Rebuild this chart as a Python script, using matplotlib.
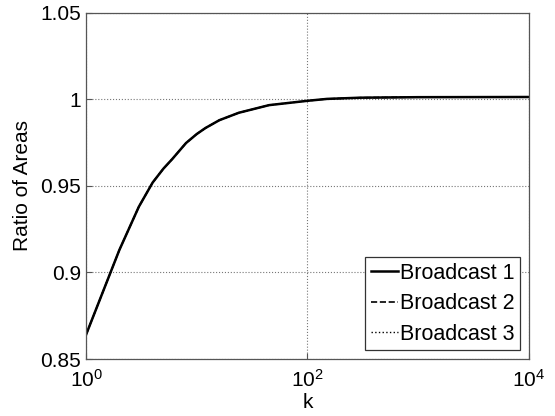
import matplotlib
matplotlib.use("Agg")
import matplotlib.pyplot as plt
from matplotlib.ticker import NullLocator

# values
k_vals = [1, 2, 3, 4, 5, 6, 8, 10, 12, 16, 24, 45, 100, 150, 300, 1000, 10000]
ratio_b1 = [0.864, 0.913, 0.938, 0.952, 0.960, 0.9655, 0.9748, 0.980, 0.9835,
            0.988, 0.9923, 0.9967, 0.9992, 1.0003, 1.001, 1.0013, 1.0014]
# the three broadcasts lie on top of each other in the picture
ratio_b2 = list(ratio_b1)
ratio_b3 = list(ratio_b1)
labels = ["Broadcast 1", "Broadcast 2", "Broadcast 3"]
y_ticks = [0.85, 0.9, 0.95, 1, 1.05]
y_tick_labels = ["0.85", "0.9", "0.95", "1", "1.05"]

plt.rcParams['font.family'] = ['Liberation Sans', 'DejaVu Sans']
plt.rcParams['mathtext.fontset'] = 'custom'
plt.rcParams['mathtext.rm'] = 'Liberation Sans'
plt.rcParams['mathtext.it'] = 'Liberation Sans'
plt.rcParams['font.size'] = 15

fig = plt.figure(figsize=(5.55, 4.16), dpi=100)
ax = fig.add_axes([0.155, 0.137, 0.798, 0.832])

ax.plot(k_vals, ratio_b1, color='black', linestyle='-', linewidth=1.8, label=labels[0])
ax.plot(k_vals, ratio_b2, color='black', linestyle='--', linewidth=1.2, label=labels[1])
ax.plot(k_vals, ratio_b3, color='black', linestyle=':', linewidth=1.0, label=labels[2])

ax.set_xscale('log')
ax.set_xlim(1, 1e4)
ax.set_ylim(0.85, 1.05)
ax.set_xticks([1, 100, 10000])
ax.xaxis.set_minor_locator(NullLocator())
ax.set_yticks(y_ticks)
ax.set_yticklabels(y_tick_labels)

ax.grid(True, which='major', linestyle=':', color='#777777', linewidth=0.8)
ax.tick_params(direction='in', length=4, color='#555555')
ax.tick_params(axis='x', pad=7)
for sp in ax.spines.values():
    sp.set_color('#555555')
    sp.set_linewidth(0.9)

ax.set_xlabel("k", labelpad=2)
ax.set_ylabel("Ratio of Areas", labelpad=6)

leg = ax.legend(loc='lower right', fancybox=False, framealpha=1, edgecolor='#333333',
                handlelength=1.25, handletextpad=0.12, borderpad=0.25, labelspacing=0.45,
                borderaxespad=0.4, fontsize=15.5)
leg.get_frame().set_linewidth(0.9)

plt.savefig("out.png", dpi=100)
